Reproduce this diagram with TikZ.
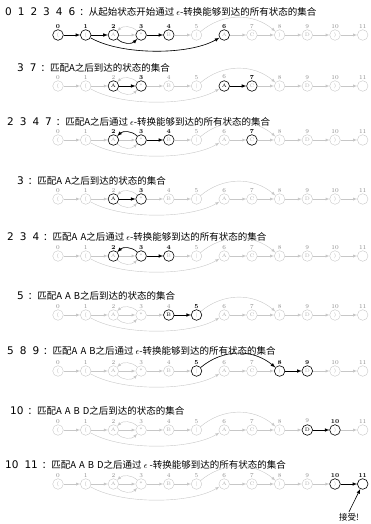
\documentclass[tikz,border=0pt]{standalone}
\usepackage{fontspec}
\newfontfamily\cjk{Noto Sans CJK SC}
\newfontfamily\digf{DejaVu Sans}
\usetikzlibrary{positioning}

\newcommand{\sts}[1]{{\digf\fontsize{10.5}{12}\selectfont #1}\hspace{4pt}}
\newcommand{\gp}{\hspace{6pt}}
\newcommand{\eps}{\hspace{2pt}$\epsilon$}

% one row of the automaton, all in grey
\newcommand{\nfarow}[2]{%
  \foreach \i/\c in {0/(,1/(,2/A,3/*,4/B,5/|,6/A,7/C,8/),9/D,10/),11/{}} {
    \node[st, s\i/.try] (#1\i) at ({58+27.7*\i},-#2) {\c};
    \node[num, n\i/.try, above=0.6pt of #1\i] (#1n\i) {\i};
  }
  \foreach \p/\q in {0/1,1/2,2/3,3/4,4/5,6/7,7/8,8/9,9/10,10/11}
    \draw[epsline] (#1\p) -- (#1\q);
  \draw[epsline] (#13) to[loopup] (#12);
  \draw[epsline] (#12) to[loopdn] (#13);
  \draw[epsline] (#15) to[skipup] (#18);
  \draw[epsline] (#11) to[skipdn] (#16);
}

\begin{document}
\begin{tikzpicture}[x=1pt, y=1pt,
    st/.style={circle, draw=black!22, minimum size=10.6pt, inner sep=0pt,
      font=\fontsize{5}{5}\selectfont, text=black!30},
    lit/.style={draw=black, semithick},
    litm/.style={lit, text=black},
    num/.style={inner sep=0.5pt, font=\fontsize{6}{6}\selectfont, text=black!45},
    hotnum/.style={text=black, font=\fontsize{6}{6}\selectfont\bfseries},
    hl/.style={s#1/.style=lit, n#1/.style=hotnum},
    mt/.style={s#1/.style=litm},
    epsline/.style={-latex, draw=black!22, thin},
    hot/.style={-latex, draw=black, semithick},
    loopup/.style={bend right=45},
    loopdn/.style={bend right=45},
    skipup/.style={out=40, in=140},
    skipdn/.style={out=-30, in=-150, looseness=0.7},
    title/.style={anchor=west, inner sep=0pt, font=\cjk\fontsize{9.5}{11}\selectfont}]
  \useasboundingbox (0,0) rectangle (370,-524);

  % 0 1 2 3 4 6
  \node[title] (ta) at (5,-12) {\sts{0\gp1\gp2\gp3\gp4\gp6}：从起始状态开始通过\eps-转换能够到达的所有状态的集合};
  \begin{scope}[hl/.list={0,1,2,3,4,6}]
    \nfarow{a}{35}
    \draw[hot] (a0) -- (a1);
    \draw[hot] (a1) -- (a2);
    \draw[hot] (a2) to[loopdn] (a3);
    \draw[hot] (a3) -- (a4);
    \draw[hot] (a1) to[skipdn] (a6);
  \end{scope}

  % 3 7
  \node[title] (tb) at (17,-68) {\sts{3\gp7}：匹配A之后到达的状态的集合};
  \begin{scope}[hl/.list={3,7}, mt/.list={2,6}]
    \nfarow{b}{86}
    \draw[hot] (b2) -- (b3);
    \draw[hot] (b6) -- (b7);
  \end{scope}

  % 2 3 4 7
  \node[title] (tc) at (7,-122) {\sts{2\gp3\gp4\gp7}：匹配A之后通过\eps-转换能够到达的所有状态的集合};
  \begin{scope}[hl/.list={2,3,4,7}]
    \nfarow{c}{140}
    \draw[hot] (c3) to[loopup] (c2);
    \draw[hot] (c3) -- (c4);
  \end{scope}

  % 3
  \node[title] (td) at (17,-181) {\sts{3}：匹配A\hspace{3pt}A之后到达的状态的集合};
  \begin{scope}[hl/.list={3}, mt/.list={2}]
    \nfarow{d}{199}
    \draw[hot] (d2) -- (d3);
  \end{scope}

  % 2 3 4
  \node[title] (te) at (7,-237) {\sts{2\gp3\gp4}：匹配A\hspace{3pt}A之后通过\eps-转换能够到达的所有状态的集合};
  \begin{scope}[hl/.list={2,3,4}]
    \nfarow{e}{256}
    \draw[hot] (e3) to[loopup] (e2);
    \draw[hot] (e3) -- (e4);
  \end{scope}

  % 5
  \node[title] (tf) at (17,-296) {\sts{5}：匹配A\hspace{3pt}A\hspace{3pt}B之后到达的状态的集合};
  \begin{scope}[hl/.list={5}, mt/.list={4}]
    \nfarow{f}{315}
    \draw[hot] (f4) -- (f5);
  \end{scope}

  % 5 8 9
  \node[title] (tg) at (7,-351) {\sts{5\gp8\gp9}：匹配A\hspace{3pt}A\hspace{3pt}B之后通过\eps-转换能够到达的所有状态的集合};
  \begin{scope}[hl/.list={5,8,9}]
    \nfarow{g}{371}
    \draw[hot] (g5) to[skipup] (g8);
    \draw[hot] (g8) -- (g9);
  \end{scope}

  % 10
  \node[title] (th) at (10,-411) {\sts{10}：匹配A\hspace{3pt}A\hspace{3pt}B\hspace{3pt}D之后到达的状态的集合};
  \begin{scope}[hl/.list={10}, mt/.list={9}]
    \nfarow{h}{430}
    \draw[hot] (h9) -- (h10);
  \end{scope}

  % 10 11
  \node[title] (tk) at (5,-465) {\sts{10\gp11}：匹配A\hspace{3pt}A\hspace{3pt}B\hspace{3pt}D之后通过\eps\ -转换能够到达的所有状态的集合};
  \begin{scope}[hl/.list={10,11}]
    \nfarow{k}{484}
    \draw[hot] (k10) -- (k11);
  \end{scope}
  \node[font=\cjk\fontsize{8.5}{9}\selectfont, inner sep=1pt] (acc) at (349,-517) {接受!};
  \draw[-latex, semithick] (acc.north) -- (k11);
\end{tikzpicture}
\end{document}
